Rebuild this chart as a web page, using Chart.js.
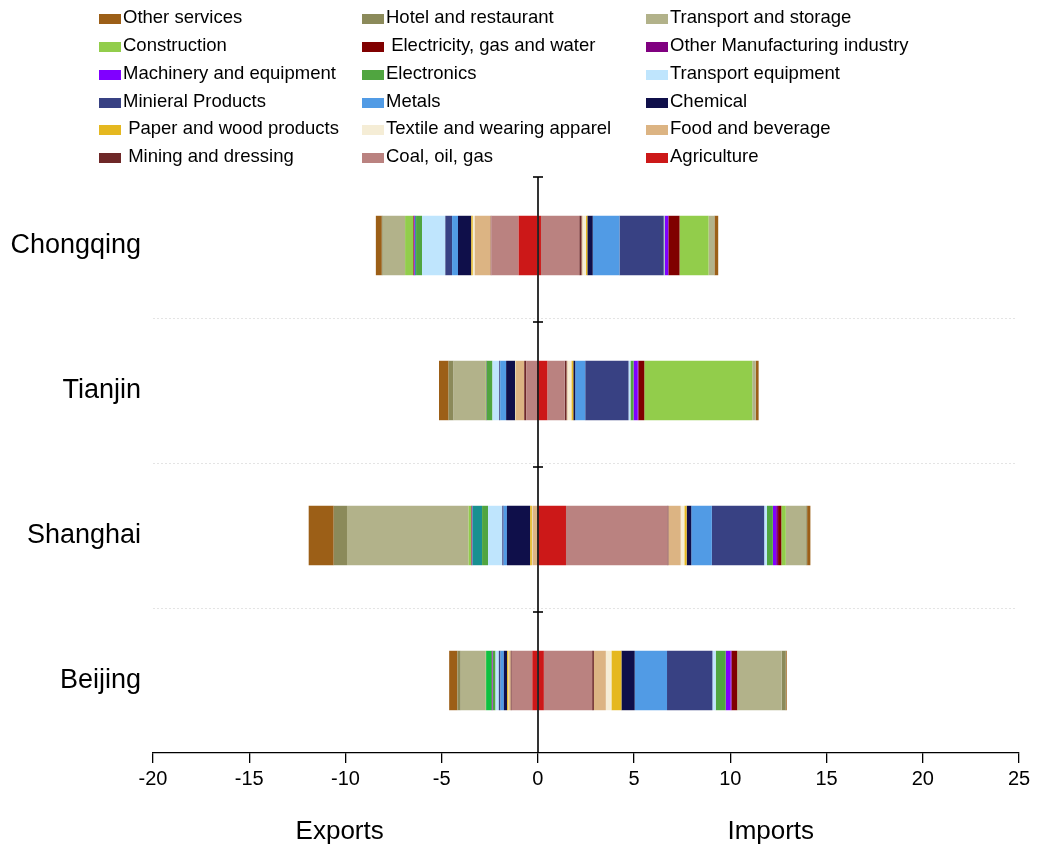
<!DOCTYPE html>
<html>
<head>
<meta charset="utf-8">
<script src="https://cdn.jsdelivr.net/npm/chart.js@4"></script>
<style>
  body { margin: 0; background: #fff; }
  #wrap { position: relative; width: 1037px; height: 851px; }
  #legend { position: absolute; left: 0; top: 0; width: 1037px; height: 170px; font-family: "Liberation Sans", Arial, sans-serif; font-size: 18.5px; color: #000; }
  .item { position: absolute; white-space: pre; line-height: 20px; }
  .item span.box { display: inline-block; width: 22px; height: 10px; margin-right: 2px; vertical-align: -1px; }
</style>
</head>
<body>
<div id="wrap">
  <canvas id="tradeChart" width="1037" height="851"></canvas>
  <div id="legend"></div>
</div>
<script>
// 도시 (카테고리)
const cities = ['Chongqing', 'Tianjin', 'Shanghai', 'Beijing'];

// 부문 이름과 색상 (0에서 바깥쪽으로 쌓이는 순서)
const sectors = ['Agriculture', 'Coal, oil, gas', ' Mining and dressing', 'Food and beverage',
  'Textile and wearing apparel', ' Paper and wood products', 'Chemical', 'Metals', 'Minieral Products',
  'Transport equipment', 'Electronics', '', 'Machinery and equipment', 'Other Manufacturing industry',
  ' Electricity, gas and water', '', 'Construction', 'Transport and storage', 'Hotel and restaurant', 'Other services'];
const colors = ['#cc1818', '#ba8280', '#6e2828', '#dcb483', '#f5edd6', '#e5b820', '#0f0f4a', '#519be5', '#384183',
  '#bfe5fd', '#50a540', '#189090', '#8000ff', '#800080', '#800000', '#10c040', '#92cd4b', '#b2b28a', '#8b8a5a', '#9c5f17'];

// 수출 (그림에서 읽은 값, Chongqing, Tianjin, Shanghai, Beijing)
const agricultureExp = [1.00, 0.02, 0.00, 0.29];
const coalExp        = [1.42, 0.59, 0.02, 1.07];
const miningExp      = [0.03, 0.10, 0.00, 0.05];
const foodExp        = [0.83, 0.43, 0.26, 0.08];
const textileExp     = [0.10, 0.02, 0.03, 0.03];
const paperExp       = [0.08, 0.02, 0.09, 0.08];
const chemicalExp    = [0.69, 0.47, 1.21, 0.17];
const metalsExp      = [0.31, 0.31, 0.17, 0.17];
const mineralExp     = [0.35, 0.05, 0.07, 0.09];
const transEqExp     = [1.21, 0.35, 0.74, 0.17];
const electronicsExp = [0.31, 0.31, 0.31, 0.14];
const tealExp        = [0.05, 0.00, 0.50, 0.00];
const machineryExp   = [0.03, 0.01, 0.02, 0.02];
const otherManExp    = [0.03, 0.01, 0.02, 0.02];
const electricityExp = [0.03, 0.01, 0.02, 0.02];
const greenExp       = [0.00, 0.00, 0.00, 0.29];
const constructExp   = [0.43, 0.03, 0.14, 0.02];
const transStorExp   = [1.16, 1.65, 6.32, 1.30];
const hotelExp       = [0.05, 0.26, 0.69, 0.17];
const otherServExp   = [0.31, 0.50, 1.30, 0.43];

// 수입
const agricultureImp = [0.16, 0.49, 1.46, 0.31];
const coalImp        = [1.99, 0.90, 5.27, 2.51];
const miningImp      = [0.12, 0.10, 0.05, 0.09];
const foodImp        = [0.05, 0.05, 0.64, 0.62];
const textileImp     = [0.17, 0.20, 0.19, 0.29];
const paperImp       = [0.08, 0.10, 0.12, 0.52];
const chemicalImp    = [0.28, 0.10, 0.24, 0.69];
const metalsImp      = [1.39, 0.52, 1.07, 1.68];
const mineralImp     = [2.30, 2.25, 2.72, 2.36];
const transEqImp     = [0.03, 0.10, 0.14, 0.17];
const electronicsImp = [0.02, 0.16, 0.31, 0.52];
const tealImp        = [0.00, 0.00, 0.00, 0.00];
const machineryImp   = [0.17, 0.22, 0.17, 0.26];
const otherManImp    = [0.03, 0.03, 0.10, 0.05];
const electricityImp = [0.57, 0.31, 0.17, 0.29];
const greenImp       = [0.00, 0.00, 0.00, 0.00];
const constructImp   = [1.51, 5.61, 0.23, 0.02];
const transStorImp   = [0.29, 0.17, 1.06, 2.29];
const hotelImp       = [0.02, 0.02, 0.05, 0.21];
const otherServImp   = [0.19, 0.14, 0.17, 0.05];

const xTicks = [-20, -15, -10, -5, 0, 5, 10, 15, 20, 25];

const exportsList = [agricultureExp, coalExp, miningExp, foodExp, textileExp, paperExp, chemicalExp, metalsExp,
  mineralExp, transEqExp, electronicsExp, tealExp, machineryExp, otherManExp, electricityExp, greenExp,
  constructExp, transStorExp, hotelExp, otherServExp];
const importsList = [agricultureImp, coalImp, miningImp, foodImp, textileImp, paperImp, chemicalImp, metalsImp,
  mineralImp, transEqImp, electronicsImp, tealImp, machineryImp, otherManImp, electricityImp, greenImp,
  constructImp, transStorImp, hotelImp, otherServImp];

// 데이터셋 만들기: 수출은 음수, 수입은 양수
const datasets = [];
sectors.forEach((name, i) => {
    datasets.push({ label: name.trim(), data: exportsList[i].map(v => -v), backgroundColor: colors[i], borderWidth: 0, stack: 's' });
    datasets.push({ label: name.trim(), data: importsList[i], backgroundColor: colors[i], borderWidth: 0, stack: 's' });
});

// 범례 (3열, 바깥쪽부터 역순)
const legendEl = document.getElementById('legend');
const colX = [99, 362, 646];
const rowY = [7, 35, 63, 91, 118, 146];
sectors.map((name, i) => ({ name, color: colors[i] })).filter(s => s.name).reverse().forEach((s, k) => {
    const div = document.createElement('div');
    div.className = 'item';
    div.style.left = colX[k % 3] + 'px';
    div.style.top = rowY[Math.floor(k / 3)] + 'px';
    const box = document.createElement('span');
    box.className = 'box';
    box.style.background = s.color;
    div.appendChild(box);
    div.appendChild(document.createTextNode(s.name));
    legendEl.appendChild(div);
});

// 0 축선, 구분선, Exports/Imports 제목
const extras = {
    id: 'extras',
    beforeDatasetsDraw(chart) {
        const { ctx, chartArea } = chart;
        const step = (chartArea.bottom - chartArea.top) / cities.length;
        ctx.save();
        ctx.strokeStyle = '#e4e4e4';
        ctx.lineWidth = 1;
        ctx.setLineDash([2, 2]);
        for (let i = 1; i < cities.length; i++) {
            const y = Math.round(chartArea.top + step * i) + 0.5;
            ctx.beginPath();
            ctx.moveTo(chartArea.left, y);
            ctx.lineTo(chartArea.right - 4, y);
            ctx.stroke();
        }
        ctx.restore();
    },
    afterDraw(chart) {
        const { ctx, chartArea, scales } = chart;
        const x0 = Math.round(scales.x.getPixelForValue(0));
        const step = (chartArea.bottom - chartArea.top) / cities.length;
        ctx.save();
        ctx.strokeStyle = '#000';
        ctx.lineWidth = 1.6;
        ctx.beginPath();
        ctx.moveTo(x0, chartArea.top + 4);
        ctx.lineTo(x0, chartArea.bottom);
        ctx.stroke();
        for (let i = 0; i < cities.length; i++) {
            const y = Math.round(chartArea.top + 4 + step * i);
            ctx.beginPath();
            ctx.moveTo(x0 - 5, y);
            ctx.lineTo(x0 + 5, y);
            ctx.stroke();
        }
        ctx.fillStyle = '#000';
        ctx.font = '26px "Liberation Sans", Arial, sans-serif';
        ctx.textAlign = 'center';
        ctx.textBaseline = 'middle';
        ctx.fillText('Exports', scales.x.getPixelForValue(-10.3), 832);
        ctx.fillText('Imports', scales.x.getPixelForValue(12.1), 832);
        ctx.restore();
    }
};

Chart.defaults.font.family = '"Liberation Sans", Arial, sans-serif';
Chart.defaults.color = '#000';

new Chart(document.getElementById('tradeChart').getContext('2d'), {
    type: 'bar',
    data: { labels: cities, datasets },
    options: {
        indexAxis: 'y',
        responsive: false,
        animation: false,
        barPercentage: 0.41,
        categoryPercentage: 1,
        layout: { padding: { top: 173, right: 18, left: 0, bottom: 0 } },
        plugins: { legend: { display: false }, tooltip: { enabled: false } },
        scales: {
            x: {
                stacked: true,
                min: -20,
                max: 25,
                afterBuildTicks: s => { s.ticks = xTicks.map(v => ({ value: v })); },
                afterFit: s => { s.height = 98; },
                grid: { display: true, drawOnChartArea: false, drawTicks: true, tickLength: 10, color: '#000', lineWidth: 1.3 },
                border: { display: true, color: '#000', width: 1.3 },
                ticks: { font: { size: 20 }, padding: 4, maxRotation: 0 }
            },
            y: {
                stacked: true,
                afterFit: s => { s.width = 153; },
                grid: { display: false },
                border: { display: false },
                ticks: { font: { size: 27 }, padding: 4 }
            }
        }
    },
    plugins: [extras]
});
</script>
</body>
</html>
